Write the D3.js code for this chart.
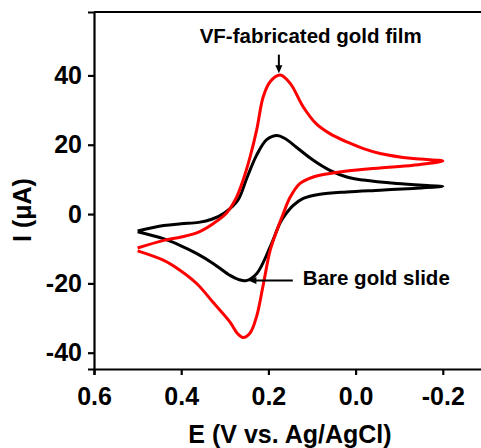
<!DOCTYPE html>
<html>
<head>
<meta charset="utf-8">
<script src="https://cdn.jsdelivr.net/npm/d3@7"></script>
<style>
  body { margin: 0; background: #fff; }
  text { font-family: "Liberation Sans", Arial, sans-serif; font-weight: bold; }
</style>
</head>
<body>
<svg id="chart" width="481" height="448"></svg>
<script>
// bare gold slide: forward scan then return scan (E in V, I in uA)
let bareForwardE = [0.50, 0.44, 0.40, 0.36, 0.33, 0.30, 0.27, 0.25, 0.227, 0.204, 0.18, 0.162, 0.135, 0.097, 0.059, 0.02, -0.018, -0.094, -0.171, -0.20];
let bareForwardI = [-4.9, -3.3, -2.8, -2.4, -1.5, 0.4, 4.0, 10.2, 17.0, 21.5, 22.7, 21.8, 19.2, 15.5, 12.6, 10.7, 9.8, 8.8, 8.2, 8.0];
let bareReturnE = [-0.20, -0.132, -0.056, 0.02, 0.082, 0.12, 0.143, 0.162, 0.173, 0.196, 0.227, 0.251, 0.268, 0.288, 0.326, 0.364, 0.403, 0.441, 0.50];
let bareReturnI = [7.8, 7.4, 6.9, 6.4, 5.7, 4.5, 2.5, -0.3, -2.5, -9.5, -17.2, -19.2, -18.9, -17.7, -14.3, -11.4, -9.0, -7.1, -5.1];

// VF-fabricated gold film
let filmForwardE = [0.50, 0.44, 0.40, 0.36, 0.326, 0.296, 0.273, 0.258, 0.242, 0.227, 0.212, 0.196, 0.173, 0.15, 0.12, 0.09, 0.059, 0.02, -0.018, -0.056, -0.132, -0.20];
let filmForwardI = [-9.8, -7.6, -6.6, -5.2, -2.7, 0.3, 4.9, 9.8, 16.5, 24.2, 33.8, 38.2, 40.1, 37.7, 30.9, 26.0, 23.2, 20.8, 18.9, 17.5, 16.0, 15.3];
let filmReturnE = [-0.20, -0.132, -0.056, 0.02, 0.059, 0.097, 0.128, 0.15, 0.166, 0.18, 0.196, 0.212, 0.227, 0.242, 0.258, 0.272, 0.288, 0.326, 0.364, 0.403, 0.441, 0.50];
let filmReturnI = [15.0, 14.1, 13.3, 12.4, 11.7, 10.7, 8.8, 4.9, 0.1, -4.5, -10.5, -20.5, -29.5, -34.3, -35.6, -34.3, -31.2, -25.6, -20.1, -16.2, -13.3, -10.6];

let xTicks = [0.6, 0.4, 0.2, 0.0, -0.2];
let yTicks = [-40, -20, 0, 20, 40];

let svg = d3.select("#chart");

let xScale = d3.scaleLinear().domain([0.6, -0.3]).range([94, 486.4]);
let yScale = d3.scaleLinear().domain([-44.7, 58.3]).range([369, 12]);

function zip(es, is) {
  return es.map((e, k) => [e, is[k]]);
}

let line = d3.line()
  .x(d => xScale(d[0]))
  .y(d => yScale(d[1]))
  .curve(d3.curveCatmullRom.alpha(0.5));

let series = [
  { name: "bare", color: "#000", f: zip(bareForwardE, bareForwardI), r: zip(bareReturnE, bareReturnI) },
  { name: "film", color: "#ff0000", f: zip(filmForwardE, filmForwardI), r: zip(filmReturnE, filmReturnI) }
];

series.forEach(s => {
  svg.append("path")
    .attr("d", line(s.f.concat(s.r.slice(1))))
    .attr("fill", "none")
    .attr("stroke", s.color)
    .attr("stroke-width", 3)
    .attr("stroke-linejoin", "round");
});

// frame
svg.append("line").attr("x1", 94).attr("x2", 486).attr("y1", yScale(58.3)).attr("y2", yScale(58.3))
  .attr("stroke", "#000").attr("stroke-width", 2.2);

let xAxis = svg.append("g")
  .attr("transform", `translate(0,${yScale(-44.7)})`)
  .call(d3.axisBottom(xScale).tickValues(xTicks).tickSize(6).tickPadding(12));
let yAxis = svg.append("g")
  .attr("transform", `translate(${xScale(0.6)},0)`)
  .call(d3.axisLeft(yScale).tickValues(yTicks).tickSize(6).tickPadding(6));

[xAxis, yAxis].forEach(a => {
  a.select(".domain").attr("stroke-width", 2.2);
  a.selectAll(".tick line").attr("stroke-width", 2.2);
  a.selectAll(".tick text").style("font-size", "25px").attr("fill", "#000");
});
xAxis.selectAll(".tick text").text(d => d3.format(".1f")(d).replace("−", "-"));
yAxis.selectAll(".tick text").text(d => String(d));

svg.append("text")
  .attr("x", 290).attr("y", 442.5)
  .attr("text-anchor", "middle")
  .style("font-size", "25px")
  .text("E (V vs. Ag/AgCl)");

svg.append("text")
  .attr("transform", "translate(31,210) rotate(-90)")
  .attr("text-anchor", "middle")
  .style("font-size", "25px")
  .text("I (μA)");

// annotations
svg.append("text")
  .attr("x", xScale(0.103)).attr("y", yScale(49.3))
  .attr("text-anchor", "middle")
  .style("font-size", "20.5px")
  .text("VF-fabricated gold film");

let ax = xScale(0.176), ay0 = yScale(46), ay1 = yScale(40.6);
svg.append("line").attr("x1", ax).attr("x2", ax).attr("y1", ay0).attr("y2", ay1 - 6)
  .attr("stroke", "#000").attr("stroke-width", 2);
svg.append("path")
  .attr("d", `M${ax - 3.5},${ay1 - 8} L${ax + 3.5},${ay1 - 8} L${ax},${ay1} Z`)
  .attr("fill", "#000");

svg.append("text")
  .attr("x", xScale(0.121)).attr("y", yScale(-20.5))
  .style("font-size", "20.5px")
  .text("Bare gold slide");

let bx0 = xScale(0.144), bx1 = xScale(0.246), by = yScale(-19.2);
svg.append("line").attr("x1", bx0).attr("x2", bx1 + 6).attr("y1", by).attr("y2", by)
  .attr("stroke", "#000").attr("stroke-width", 2);
svg.append("path")
  .attr("d", `M${bx1 + 8},${by - 3.5} L${bx1 + 8},${by + 3.5} L${bx1},${by} Z`)
  .attr("fill", "#000");
</script>
</body>
</html>
